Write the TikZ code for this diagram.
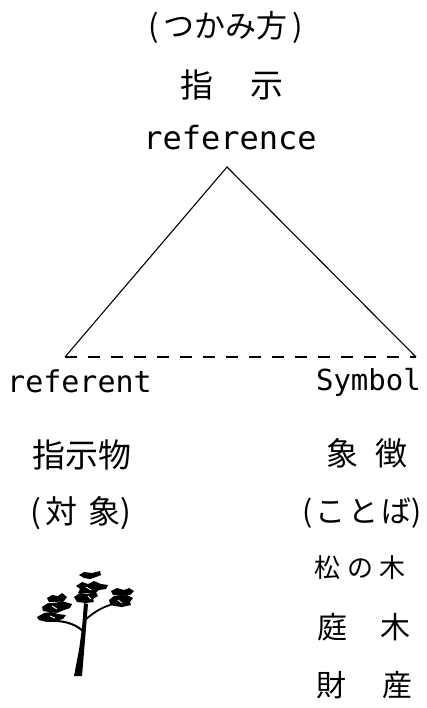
\documentclass[tikz,border=0pt]{standalone}
\usepackage{fontspec}
\newfontfamily\jpfont{Noto Sans CJK JP}
\newfontfamily\twfont{DejaVu Sans Mono}
\begin{document}
\begin{tikzpicture}[x=1pt,y=-1pt,
  jp/.style={font=\jpfont\fontsize{#1}{#1}\selectfont, inner sep=0pt, anchor=center},
  en/.style={font=\twfont\fontsize{#1}{#1}\selectfont, inner sep=0pt},
  side/.style={line width=1.1pt},
  dashlink/.style={line width=1.1pt, dash pattern=on 12pt off 11pt},
  ink/.style={fill=black, draw=none},
  speck/.style={draw=white, line width=0.9pt}]
\useasboundingbox (0,0) rectangle (426,708);

% top label
\node[jp=31] (grasp) at (226,27) {(\hspace{5pt}つかみ方\hspace{5pt})};
\node[jp=33] (shiji) at (232,85) {指\hspace{37pt}示};
\node[en=32, anchor=base] (reference) at (230,150) {reference};

% triangle
\coordinate (apex) at (227,167);
\coordinate (left) at (65,357);
\coordinate (right) at (416,357);
\draw[side] (left) -- (apex) -- (right);
\draw[dashlink] (left) -- (right);

% corner labels
\node[en=30, anchor=base west] (referent) at (7,392) {referent};
\node[en=29, anchor=base east] (symbol) at (421,390) {Symbol};

% left column
\node[jp=33] (shijibutsu) at (82,455) {指示物};
\node[jp=32] (taisho) at (81,513) {(\hspace{4pt}対\hspace{11pt}象)};

% right column
\node[jp=32] (shocho) at (367,453) {象\hspace{18pt}徴};
\node[jp=30] (kotoba) at (362,513) {(\hspace{3pt}こ\hspace{3pt}と\hspace{3pt}ば)};
\node[jp=26] (matsu) at (360,568) {松\hspace{7pt}の\hspace{7pt}木};
\node[jp=30] (niwaki) at (364,627) {庭\hspace{34pt}木};
\node[jp=30] (zaisan) at (364,685) {財\hspace{36pt}産};

% pine tree: trunk and branches
\fill[ink] (74,676) -- (82,676) -- (84,652) -- (86,628) -- (88,604) -- (84,603) -- (82,628) -- (79,650) -- cycle;
\draw[line width=2pt] (83,631) .. controls (74,623) and (62,620) .. (47,621);
\draw[line width=1.8pt] (85,620) .. controls (94,612) and (104,606) .. (114,604);
% crown tufts, top
\fill[ink] (79,575) -- (84,572) -- (92,573) -- (100,571) -- (101,575) -- (96,577) -- (90,579) -- (84,578) -- cycle;
\fill[ink] (76,586) -- (82,582) -- (88,584) -- (94,581) -- (101,584) -- (108,585) -- (106,589) -- (99,590) -- (94,594) -- (86,593) -- (78,593) -- (80,589) -- cycle;
\fill[ink] (74,597) -- (80,593) -- (88,594) -- (96,592) -- (98,596) -- (93,599) -- (94,602) -- (86,603) -- (77,602) -- cycle;
% crown tufts, left
\fill[ink] (47,598) -- (52,595) -- (58,596) -- (62,593) -- (67,597) -- (64,601) -- (56,602) -- (49,602) -- cycle;
\fill[ink] (42,607) -- (48,603) -- (55,603) -- (62,601) -- (72,604) -- (70,608) -- (64,610) -- (57,613) -- (49,612) -- (43,611) -- cycle;
\fill[ink] (37,617) -- (44,613) -- (51,612) -- (58,614) -- (66,615) -- (63,619) -- (55,621) -- (47,622) -- (39,620) -- cycle;
% crown tufts, right
\fill[ink] (111,591) -- (117,588) -- (124,590) -- (129,588) -- (134,591) -- (130,595) -- (121,596) -- (113,595) -- cycle;
\fill[ink] (109,600) -- (114,596) -- (121,596) -- (127,595) -- (133,598) -- (130,602) -- (131,605) -- (122,607) -- (114,606) -- (110,604) -- cycle;
% light flecks in the foliage
\draw[speck] (86,587) -- (91,590);
\draw[speck] (88,596) -- (91,599);
\draw[speck] (52,606) -- (57,609);
\draw[speck] (50,616) -- (55,618);
\draw[speck] (118,600) -- (122,603);
\end{tikzpicture}
\end{document}
